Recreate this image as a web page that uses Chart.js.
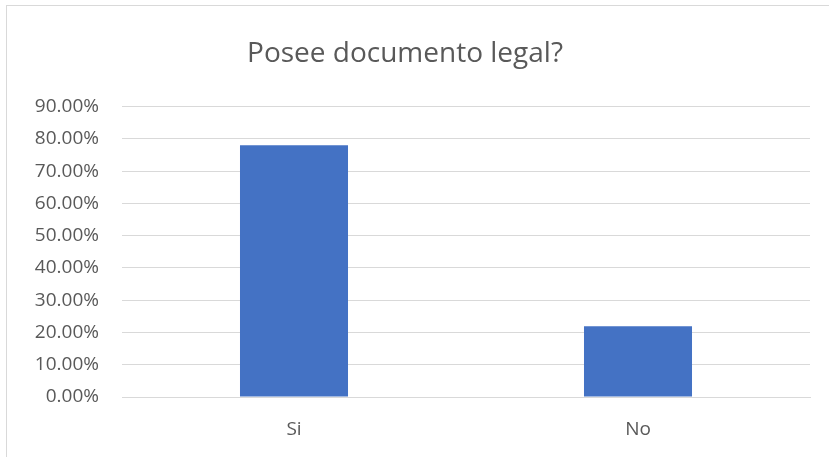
<!DOCTYPE html>
<html>
<head>
<meta charset="utf-8">
<script src="https://cdn.jsdelivr.net/npm/chart.js@4"></script>
<style>
  html, body { margin: 0; padding: 0; background: #fff; overflow: hidden; }
  #frame { position: absolute; left: 6px; top: 5px; width: 900px; height: 500px; border-left: 1px solid #d9d9d9; border-top: 1px solid #d9d9d9; }
  #wrap { position: absolute; left: 0; top: 0; width: 829px; height: 457px; }
</style>
</head>
<body>
<div id="frame"></div>
<div id="wrap"><canvas id="c"></canvas></div>
<script>
const categories = ['Si', 'No'];
const values = [78.05, 21.95];
const chartTitle = 'Posee documento legal?';

const textColor = '#595959';
const gridColor = '#d9d9d9';
const fontFamily = "'Open Sans', 'Noto Sans', sans-serif";

new Chart(document.getElementById('c'), {
  type: 'bar',
  data: {
    labels: categories,
    datasets: [{
      data: values,
      backgroundColor: '#4472c4',
      categoryPercentage: 1,
      barPercentage: 0.314
    }]
  },
  options: {
    responsive: true,
    maintainAspectRatio: false,
    animation: false,
    layout: { padding: { left: 0, right: 19, top: 0, bottom: 0 } },
    plugins: {
      legend: { display: false },
      tooltip: { enabled: false },
      title: {
        display: true,
        text: chartTitle,
        color: textColor,
        font: { family: fontFamily, size: 28, weight: 'normal' },
        padding: { top: 37, bottom: 36 }
      }
    },
    scales: {
      x: {
        grid: { display: false },
        border: { color: gridColor },
        ticks: { color: textColor, font: { family: fontFamily, size: 19 }, padding: 13 },
        afterFit: s => { s.height = 60; }
      },
      y: {
        min: 0,
        max: 90,
        ticks: {
          stepSize: 10,
          color: textColor,
          font: { family: fontFamily, size: 19 },
          padding: 23,
          callback: v => v.toFixed(2) + '%'
        },
        grid: { color: gridColor, drawTicks: false },
        border: { display: false },
        afterFit: s => { s.width = 122; }
      }
    }
  }
});
</script>
</body>
</html>
